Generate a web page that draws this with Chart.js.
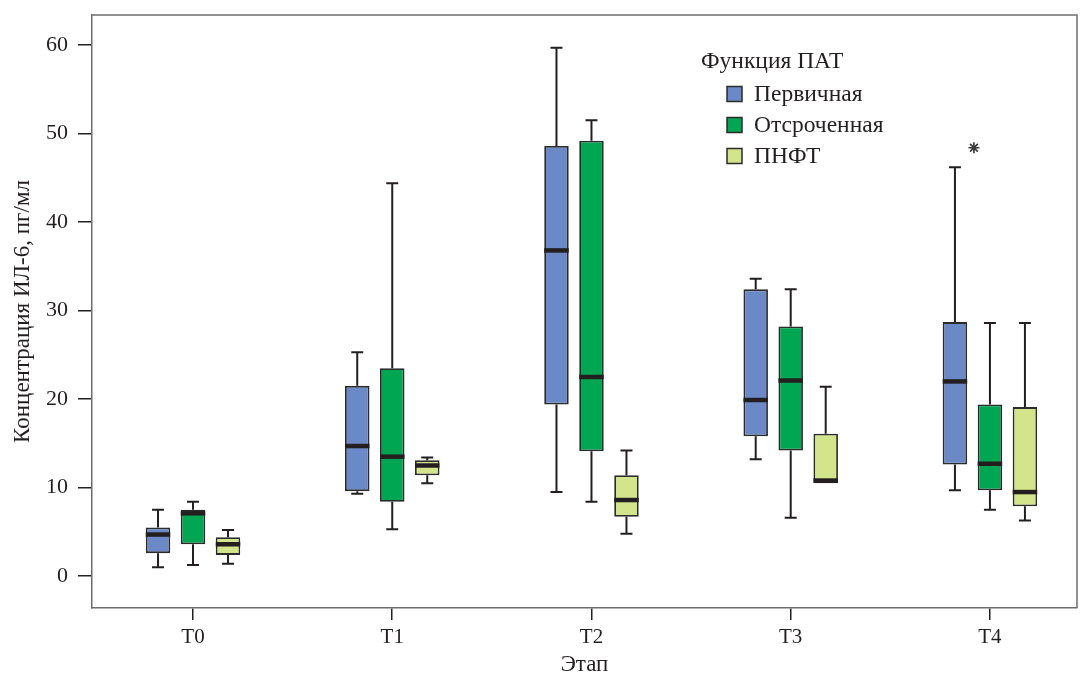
<!DOCTYPE html>
<html>
<head>
<meta charset="utf-8">
<script src="https://cdn.jsdelivr.net/npm/chart.js@4.4.1/dist/chart.umd.min.js"></script>
<style>
  html, body { margin: 0; padding: 0; background: #fff; }
  #wrap { width: 1081px; height: 679px; }
</style>
</head>
<body>
<div id="wrap"><canvas id="myChart" width="1081" height="679"></canvas></div>
<script>
// categories and group names
const categories = ["T0", "T1", "T2", "T3", "T4"];
const seriesNames = ["Первичная", "Отсроченная", "ПНФТ"];
const yTicks = [0, 10, 20, 30, 40, 50, 60];

// box plot values: min, q1, median, q3, max
const primaryMin = [1.0, 9.3, 9.5, 13.2, 9.7];
const primaryQ1 = [2.6, 9.6, 19.4, 15.8, 12.6];
const primaryMed = [4.7, 14.7, 36.8, 19.9, 22.0];
const primaryQ3 = [5.5, 21.5, 48.6, 32.4, 28.7];
const primaryMax = [7.5, 25.3, 59.7, 33.6, 46.2];

const delayedMin = [1.25, 5.3, 8.4, 6.6, 7.5];
const delayedQ1 = [3.6, 8.4, 14.1, 14.2, 9.7];
const delayedMed = [7.1, 13.5, 22.5, 22.1, 12.7];
const delayedQ3 = [7.5, 23.5, 49.2, 28.2, 19.4];
const delayedMax = [8.4, 44.4, 51.5, 32.4, 28.6];

const pnftMin = [1.4, 10.5, 4.8, 10.5, 6.3];
const pnftQ1 = [2.4, 11.4, 6.7, 10.5, 7.9];
const pnftMed = [3.6, 12.5, 8.6, 10.8, 9.5];
const pnftQ3 = [4.4, 13.1, 11.4, 16.1, 19.1];
const pnftMax = [5.2, 13.4, 14.2, 21.4, 28.6];

// extreme value marked with an asterisk: [series, category, value]
const extremes = [[0, 4, 48.4]];

const colors = ["#6b89c6", "#00a651", "#d3e48a"];
const ink = "#231f20";
const FONT = "'Liberation Serif', 'Times New Roman', serif";

const stats = [
  { min: primaryMin, q1: primaryQ1, med: primaryMed, q3: primaryQ3, max: primaryMax },
  { min: delayedMin, q1: delayedQ1, med: delayedMed, q3: delayedQ3, max: delayedMax },
  { min: pnftMin, q1: pnftQ1, med: pnftMed, q3: pnftQ3, max: pnftMax }
];

const datasets = stats.map((s, i) => ({
  label: seriesNames[i],
  data: categories.map((c, j) => ({ x: j, y: [s.q1[j], s.q3[j]] })),
  backgroundColor: colors[i],
  borderColor: "#2b2b2b",
  borderWidth: 1.8,
  borderSkipped: false,
  categoryPercentage: 0.527,
  barPercentage: 0.7
}));

// whiskers, medians, asterisks, frame and legend
const boxPlugin = {
  id: "boxExtras",
  afterDatasetsDraw(chart) {
    const ctx = chart.ctx;
    const y = chart.scales.y;
    ctx.save();
    ctx.strokeStyle = ink;
    stats.forEach((s, di) => {
      const meta = chart.getDatasetMeta(di);
      meta.data.forEach((bar, j) => {
        const x = bar.x;
        const half = bar.width / 2;
        const cap = 6;
        ctx.lineWidth = 2;
        ctx.beginPath();
        // upper whisker
        ctx.moveTo(x, y.getPixelForValue(s.q3[j]));
        ctx.lineTo(x, y.getPixelForValue(s.max[j]));
        ctx.moveTo(x - cap, y.getPixelForValue(s.max[j]));
        ctx.lineTo(x + cap, y.getPixelForValue(s.max[j]));
        // lower whisker
        if (s.min[j] < s.q1[j]) {
          ctx.moveTo(x, y.getPixelForValue(s.q1[j]));
          ctx.lineTo(x, y.getPixelForValue(s.min[j]));
          ctx.moveTo(x - cap, y.getPixelForValue(s.min[j]));
          ctx.lineTo(x + cap, y.getPixelForValue(s.min[j]));
        }
        ctx.stroke();
        // median
        ctx.lineWidth = 4.5;
        ctx.beginPath();
        ctx.moveTo(x - half, y.getPixelForValue(s.med[j]));
        ctx.lineTo(x + half, y.getPixelForValue(s.med[j]));
        ctx.stroke();
      });
    });
    extremes.forEach(([di, j, v]) => {
      const bar = chart.getDatasetMeta(di).data[j];
      const cx = bar.x + 19, cy = y.getPixelForValue(v);
      const r = 5.5;
      ctx.lineWidth = 1.7;
      ctx.strokeStyle = "#3a3a3a";
      ctx.beginPath();
      for (let k = 0; k < 4; k++) {
        const a = k * Math.PI / 4;
        ctx.moveTo(cx - r * Math.cos(a), cy - r * Math.sin(a));
        ctx.lineTo(cx + r * Math.cos(a), cy + r * Math.sin(a));
      }
      ctx.stroke();
    });
    ctx.restore();
  },
  afterDraw(chart) {
    const ctx = chart.ctx;
    const a = chart.chartArea;
    ctx.save();
    // top and right frame
    ctx.strokeStyle = "#6d6d6d";
    ctx.lineWidth = 1.5;
    ctx.beginPath();
    ctx.moveTo(a.left, a.top);
    ctx.lineTo(a.right, a.top);
    ctx.lineTo(a.right, a.bottom);
    ctx.stroke();
    // legend
    ctx.fillStyle = ink;
    ctx.font = "23.5px " + FONT;
    ctx.textBaseline = "alphabetic";
    ctx.fillText("Функция ПАТ", 701, 68);
    ctx.textBaseline = "middle";
    chart.data.datasets.forEach((ds, i) => {
      const cy = 94 + i * 31;
      ctx.fillStyle = ds.backgroundColor;
      ctx.fillRect(727, cy - 7.5, 15, 15);
      ctx.strokeStyle = "#2b2b2b";
      ctx.lineWidth = 1.5;
      ctx.strokeRect(727, cy - 7.5, 15, 15);
      ctx.fillStyle = ink;
      ctx.fillText(ds.label, 754, cy + 1);
    });
    ctx.restore();
  }
};

const config = {
  type: "bar",
  data: { datasets: datasets },
  options: {
    responsive: false,
    animation: false,
    layout: { padding: { top: 15, right: 4, left: 0, bottom: 0 } },
    plugins: {
      legend: { display: false },
      tooltip: { enabled: false }
    },
    scales: {
      x: {
        type: "linear",
        offset: false,
        min: -0.507,
        max: 4.437,
        afterBuildTicks: axis => { axis.ticks = categories.map((c, i) => ({ value: i })); },
        afterFit: scale => {
          scale.height = 71;
          scale.paddingLeft = 0;
          scale.paddingRight = 0;
        },
        ticks: {
          callback: v => categories[v],
          color: ink,
          font: { family: FONT, size: 21 },
          padding: 5,
          maxRotation: 0
        },
        grid: { offset: false, drawOnChartArea: false, drawTicks: true, tickLength: 12, color: ink, lineWidth: 1.5 },
        border: { display: true, color: "#6d6d6d", width: 1.5 },
        title: { display: true, text: "Этап", color: ink, font: { family: FONT, size: 23 }, padding: { top: 0, bottom: 0 } }
      },
      y: {
        min: -3.6,
        max: 63.4,
        afterBuildTicks: axis => { axis.ticks = yTicks.map(v => ({ value: v })); },
        afterFit: scale => {
          scale.width = 92;
          scale.paddingTop = 0;
          scale.paddingBottom = 0;
        },
        ticks: {
          color: ink,
          font: { family: FONT, size: 22 },
          padding: 10
        },
        grid: { drawOnChartArea: false, drawTicks: true, tickLength: 14, color: ink, lineWidth: 1.5 },
        border: { display: true, color: "#6d6d6d", width: 1.5 },
        title: { display: true, text: "Концентрация ИЛ-6, пг/мл", color: ink, font: { family: FONT, size: 23 }, padding: { top: 9, bottom: 0 } }
      }
    }
  },
  plugins: [boxPlugin]
};

const myChart = new Chart(document.getElementById("myChart"), config);
</script>
</body>
</html>
